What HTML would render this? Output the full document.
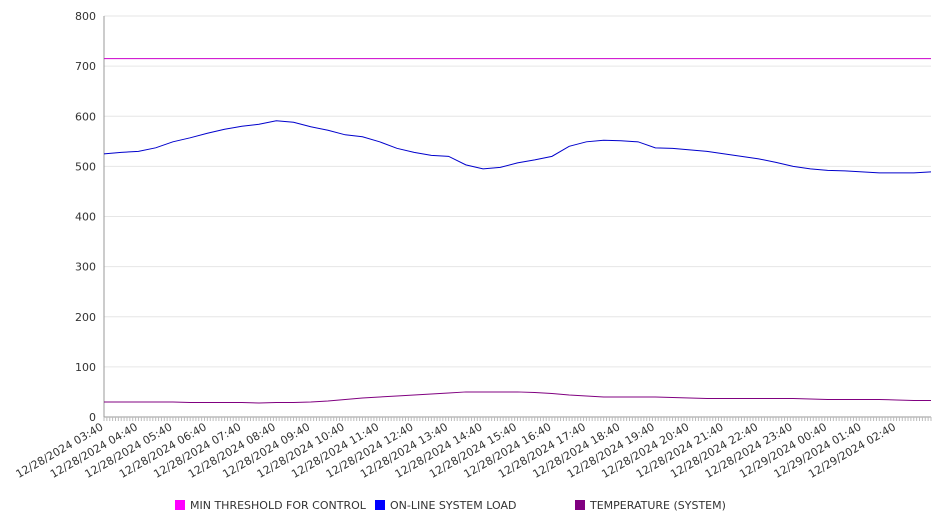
<!DOCTYPE html>
<html><head><meta charset="utf-8"><style>
body{margin:0;background:#fff;font-family:"DejaVu Sans","Liberation Sans",sans-serif}
svg text{font-family:"DejaVu Sans","Liberation Sans",sans-serif;font-size:11px;fill:#333}
</style></head><body>
<svg id="chart" width="946" height="526" viewBox="0 0 946 526" xmlns="http://www.w3.org/2000/svg">
<g id="grid"></g>
<g id="axes"></g>
<g id="series"></g>
<g id="legend"></g>
</svg>
<script>
const yTicks=[0,100,200,300,400,500,600,700,800];
const xLabels=["12/28/2024 03:40","12/28/2024 04:40","12/28/2024 05:40","12/28/2024 06:40","12/28/2024 07:40","12/28/2024 08:40","12/28/2024 09:40","12/28/2024 10:40","12/28/2024 11:40","12/28/2024 12:40","12/28/2024 13:40","12/28/2024 14:40","12/28/2024 15:40","12/28/2024 16:40","12/28/2024 17:40","12/28/2024 18:40","12/28/2024 19:40","12/28/2024 20:40","12/28/2024 21:40","12/28/2024 22:40","12/28/2024 23:40","12/29/2024 00:40","12/29/2024 01:40","12/29/2024 02:40"];
const threshold=[715,715];
const load=[525,528,530,537,549,557,566,574,580,584,591,588,579,572,563,559,549,536,528,522,520,503,495,498,507,513,520,540,549,552,551,549,537,536,533,530,525,520,515,508,500,495,492,491,489,487,487,487,489];
const temperature=[30,30,30,30,30,29,29,29,29,28,29,29,30,32,35,38,40,42,44,46,48,50,50,50,50,49,47,44,42,40,40,40,40,39,38,37,37,37,37,37,37,36,35,35,35,35,34,33,33];
const NS="http://www.w3.org/2000/svg";
const L=104,R=931,T=16,B=417,HOURS=24;
const y=v=>B-(v/800)*(B-T);
const xh=h=>L+(h/HOURS)*(R-L);
function mk(tag,attrs,parent){const e=document.createElementNS(NS,tag);for(const k in attrs)e.setAttribute(k,attrs[k]);parent.appendChild(e);return e;}
const grid=document.getElementById('grid'),axes=document.getElementById('axes'),series=document.getElementById('series'),legend=document.getElementById('legend');
yTicks.forEach(v=>{
 const ln=mk('line',{x1:L,x2:R,y1:y(v),y2:y(v),stroke:v===0?'#999':'#e6e6e6','stroke-width':1},grid);
 
 
 const t=mk('text',{x:96,y:y(v)+4,'text-anchor':'end'},axes);
 t.textContent=v;
 
 
});
const ax=mk('line',{x1:L,x2:L,y1:T,y2:B,stroke:'#999'},axes);


for(let i=0;i<=288;i++){const xx=xh(i/12);const tk=mk('line',{x1:xx,x2:xx,y1:B,y2:B+4,stroke:'#bbb'},axes);
 
 }
xLabels.forEach((s,i)=>{const xx=xh(i);
 const t=mk('text',{x:xx,y:B+12,'text-anchor':'end',transform:`rotate(-30 ${xx} ${B+12})`},axes);
 t.textContent=s;
 
 });
function line(arr,color,name){const n=arr.length-1;
 const p=mk('polyline',{points:arr.map((v,i)=>xh(i*HOURS/n)+','+y(v)).join(' '),fill:'none',stroke:color,'stroke-width':1},series);
 
 }
line(threshold,'#cc00cc','min-threshold-line');
line(load,'#0000cc','system-load-line');
line(temperature,'#800080','temperature-line');
[["MIN THRESHOLD FOR CONTROL","#ff00ff",175],["ON-LINE SYSTEM LOAD","#0000ff",375],["TEMPERATURE (SYSTEM)","#800080",575]].forEach(([s,c,x])=>{
 const r=mk('rect',{x:x,y:500,width:10,height:10,fill:c},legend);
 
 
 const t=mk('text',{x:x+15,y:509},legend);
 t.textContent=s;
 
 
});
</script>
</body></html>
